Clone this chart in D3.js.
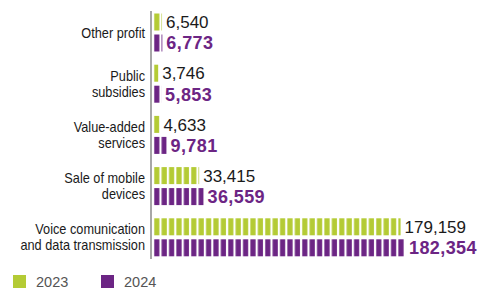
<!DOCTYPE html>
<html>
<head>
<meta charset="utf-8">
<script src="https://cdn.jsdelivr.net/npm/d3@7"></script>
<style>
  body { margin: 0; background: #fff; }
  svg { display: block; }
</style>
</head>
<body>
<div id="chart"></div>
<script>
// Data
const categories = [
  ["Other profit"],
  ["Public", "subsidies"],
  ["Value-added", "services"],
  ["Sale of mobile", "devices"],
  ["Voice comunication", "and data transmission"],
];
const years = ["2023", "2024"];
const values2023 = [6540, 3746, 4633, 33415, 179159];
const values2024 = [6773, 5853, 9781, 36559, 182354];

const colors = { "2023": "#b4cb35", "2024": "#6c2584" };

const width = 487;
const height = 301;
const x0 = 153;

const svg = d3
  .select("#chart")
  .append("svg")
  .attr("width", width)
  .attr("height", height);

// striped fill, one pattern per year
const defs = svg.append("defs");
years.forEach((yr) => {
  const p = defs
    .append("pattern")
    .attr("id", `stripe-${yr}`)
    .attr("patternUnits", "userSpaceOnUse")
    .attr("x", x0)
    .attr("y", 0)
    .attr("width", 7.4)
    .attr("height", 10);
  p.append("rect")
    .attr("x", 1.2)
    .attr("y", 0)
    .attr("width", 5.2)
    .attr("height", 10)
    .attr("fill", colors[yr]);
});

const x = d3.scaleLinear().domain([0, 182354]).range([x0, 405]);

const keys = categories.map((c) => c.join(" "));
const y = d3.scaleBand().domain(keys).range([11.5, 267.5]).padding(0);

const rows = keys.map((k, i) => ({
  key: k,
  lines: categories[i],
  v2023: values2023[i],
  v2024: values2024[i],
}));

// Axis line
svg
  .append("line")
  .attr("x1", 151)
  .attr("x2", 151)
  .attr("y1", 11)
  .attr("y2", 259)
  .attr("stroke", "#8a8a8a")
  .attr("stroke-width", 1.5);

const g = svg
  .selectAll("g.row")
  .data(rows)
  .enter()
  .append("g")
  .attr("class", "row")
  .attr("transform", (d) => `translate(0,${y(d.key)})`);

const barH = 17;
const offsets = { "2023": 2, "2024": 23 };

years.forEach((yr) => {
  g.append("rect")
    .attr("x", x0)
    .attr("y", offsets[yr])
    .attr("width", (d) => x(d["v" + yr]) - x0)
    .attr("height", barH)
    .attr("fill", `url(#stripe-${yr})`);

  g.append("text")
    .attr("x", (d) => x(d["v" + yr]) + 4)
    .attr("y", offsets[yr] + barH / 2)
    .attr("dy", "0.36em")
    .attr("font-family", "'Liberation Sans', Arial, sans-serif")
    .attr("font-size", yr === "2023" ? 17 : 18)
    .attr("font-weight", yr === "2023" ? "normal" : "bold")
    .attr("letter-spacing", yr === "2023" ? 0 : 0.4)
    .attr("fill", yr === "2023" ? "#1a1a1a" : colors[yr])
    .text((d) => d3.format(",")(d["v" + yr]));
});

// Category labels (condensed look: squeeze horizontally)
g.each(function (d) {
  const lh = 15.8;
  const startY = 21 - ((d.lines.length - 1) * lh) / 2;
  d.lines.forEach((ln, j) => {
    d3.select(this)
      .append("text")
      .attr("text-anchor", "end")
      .attr("transform", `translate(145,${startY + j * lh}) scale(0.91,1)`)
      .attr("dy", "0.36em")
      .attr("font-family", "'Liberation Sans', Arial, sans-serif")
      .attr("font-size", 14)
      .attr("fill", "#1a1a1a")
      .text(ln);
  });
});

// Legend
const legend = svg
  .append("g")
  .selectAll("g")
  .data(years)
  .enter()
  .append("g")
  .attr("transform", (d, i) => `translate(${13 + i * 88},275)`);

legend
  .append("rect")
  .attr("width", 13)
  .attr("height", 13)
  .attr("fill", (d) => colors[d]);

legend
  .append("text")
  .attr("x", 23)
  .attr("y", 6.5)
  .attr("dy", "0.36em")
  .attr("font-family", "'Liberation Sans', Arial, sans-serif")
  .attr("font-size", 14.5)
  .attr("fill", "#555")
  .text((d) => d);
</script>
</body>
</html>
